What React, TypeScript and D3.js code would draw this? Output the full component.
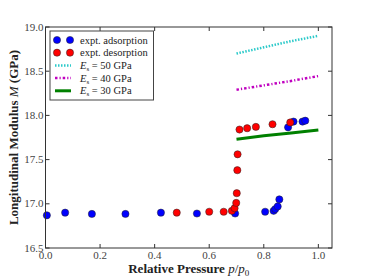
import React from 'react';
import * as d3 from 'd3';

const adsP = [0.005, 0.072, 0.17, 0.293, 0.423, 0.555, 0.695, 0.805, 0.836, 0.842, 0.851, 0.857, 0.889, 0.909, 0.942, 0.952];
const adsM = [16.87, 16.9, 16.885, 16.885, 16.9, 16.89, 16.89, 16.91, 16.92, 16.94, 16.97, 17.05, 17.865, 17.93, 17.93, 17.94];

const desP = [0.481, 0.6, 0.653, 0.683, 0.693, 0.699, 0.701, 0.703, 0.704, 0.711, 0.739, 0.771, 0.832, 0.897];
const desM = [16.9, 16.91, 16.91, 16.92, 16.95, 17.01, 17.12, 17.38, 17.56, 17.84, 17.855, 17.87, 17.9, 17.92];

const modelP = [0.7, 0.8, 0.9, 1.0];
const e50 = [18.7, 18.77, 18.84, 18.9];
const e40 = [18.29, 18.34, 18.39, 18.445];
const e30 = [17.73, 17.77, 17.8, 17.835];

const xTicks = [0, 0.2, 0.4, 0.6, 0.8, 1.0];
const yTicks = [16.5, 17.0, 17.5, 18.0, 18.5, 19.0];

const W = 369;
const H = 277;
const M = { left: 45.5, right: 332, top: 27, bottom: 248 };
const font = '"Liberation Serif", serif';

const cyan = '#2ccaca';
const magenta = '#c000c0';
const green = '#008000';
const dash50 = '1.5,1.5';
const dash40 = '2.5,2,1.2,2';

const App = () => {
  const x = d3.scaleLinear().domain([0, 1.05]).range([M.left, M.right]);
  const y = d3.scaleLinear().domain([16.5, 19.0]).range([M.bottom, M.top]);
  const line = d3.line<number>().x((d, i) => x(modelP[i])).y(d => y(d));

  const ads = adsP.map((p, i) => ({ p, m: adsM[i] }));
  const des = desP.map((p, i) => ({ p, m: desM[i] }));

  const legend = [
    { label: 'expt. adsorption', kind: 'dot', color: '#0000ff' },
    { label: 'expt. desorption', kind: 'dot', color: '#ff0000' },
    { label: '50', kind: 'line', color: cyan, dash: dash50, width: 2.5 },
    { label: '40', kind: 'line', color: magenta, dash: dash40, width: 2.5 },
    { label: '30', kind: 'line', color: green, dash: '', width: 3 },
  ];

  return (
    <svg width={W} height={H} style={{ position: 'absolute', left: 0, top: 0 }}>
      <rect width={W} height={H} fill="#fff" />
      {/* model lines */}
      <path d={line(e50) || ''} fill="none" stroke={cyan} strokeWidth={2.5} strokeDasharray={dash50} />
      <path d={line(e40) || ''} fill="none" stroke={magenta} strokeWidth={2.5} strokeDasharray={dash40} />
      <path d={line(e30) || ''} fill="none" stroke={green} strokeWidth={3} />
      {/* data */}
      {ads.map((d, i) => (
        <circle key={'a' + i} cx={x(d.p)} cy={y(d.m)} r={3.6} fill="#0000ff" stroke="#222" strokeWidth={0.5} />
      ))}
      {des.map((d, i) => (
        <circle key={'d' + i} cx={x(d.p)} cy={y(d.m)} r={3.6} fill="#ff0000" stroke="#222" strokeWidth={0.5} />
      ))}
      {/* frame */}
      <rect x={M.left} y={M.top} width={M.right - M.left} height={M.bottom - M.top} fill="none" stroke="#333" strokeWidth={1} />
      {xTicks.map(t => (
        <g key={'x' + t}>
          <line x1={x(t)} x2={x(t)} y1={M.bottom} y2={M.bottom - 4} stroke="#333" />
          <line x1={x(t)} x2={x(t)} y1={M.top} y2={M.top + 4} stroke="#333" />
          <text x={x(t)} y={M.bottom + 11} textAnchor="middle" fontFamily={font} fontSize={11} fill="#444">
            {t.toFixed(1)}
          </text>
        </g>
      ))}
      {yTicks.map(t => (
        <g key={'y' + t}>
          <line x1={M.left} x2={M.left + 4} y1={y(t)} y2={y(t)} stroke="#333" />
          <line x1={M.right} x2={M.right - 4} y1={y(t)} y2={y(t)} stroke="#333" />
          <text x={M.left - 2} y={y(t) + 3.5} textAnchor="end" fontFamily={font} fontSize={11} fill="#444">
            {t.toFixed(1)}
          </text>
        </g>
      ))}
      {/* axis labels */}
      <text x={(M.left + M.right) / 2} y={273} textAnchor="middle" fontFamily={font} fontSize={13} fontWeight="bold" fill="#222">
        Relative Pressure <tspan fontStyle="italic" fontWeight="normal">p</tspan>
        <tspan fontWeight="normal">/</tspan>
        <tspan fontStyle="italic" fontWeight="normal">p</tspan>
        <tspan fontSize={9} dy={3} fontWeight="normal">0</tspan>
      </text>
      <text transform={`translate(18,${(M.top + M.bottom) / 2}) rotate(-90)`} textAnchor="middle" fontFamily={font} fontSize={13} fontWeight="bold" fill="#222">
        Longitudinal Modulus <tspan fontStyle="italic" fontWeight="normal">M</tspan> (GPa)
      </text>
      {/* legend */}
      <rect x={50} y={31} width={103.5} height={69} fill="#fff" stroke="#444" strokeWidth={1} />
      {legend.map((l, i) => {
        const ly = 40 + i * 12.7;
        return (
          <g key={'l' + i}>
            {l.kind === 'dot' ? (
              <>
                <circle cx={57} cy={ly} r={3.6} fill={l.color} stroke="#222" strokeWidth={0.5} />
                <circle cx={70} cy={ly} r={3.6} fill={l.color} stroke="#222" strokeWidth={0.5} />
              </>
            ) : (
              <line x1={55} x2={71} y1={ly} y2={ly} stroke={l.color} strokeWidth={l.width} strokeDasharray={l.dash} />
            )}
            <text x={80} y={ly + 3.5} fontFamily={font} fontSize={10.5} fill="#222">
              {l.kind === 'dot' ? (
                l.label
              ) : (
                <>
                  <tspan fontStyle="italic">E</tspan>
                  <tspan fontSize={7} dy={2}>s</tspan>
                  <tspan dy={-2}>{` = ${l.label} GPa`}</tspan>
                </>
              )}
            </text>
          </g>
        );
      })}
    </svg>
  );
};

export default App;
